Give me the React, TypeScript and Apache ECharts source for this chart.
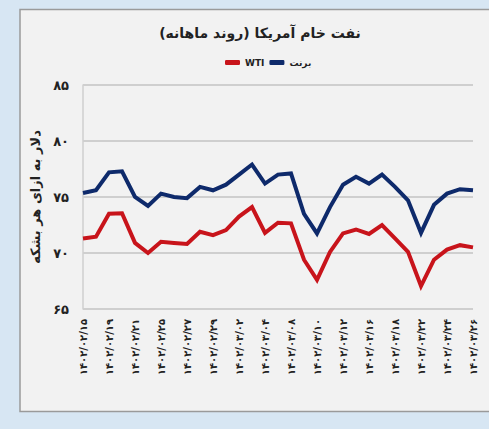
import React, { useEffect, useRef } from "react";
import * as echarts from "echarts";

const dates = [
  "۱۴۰۲/۰۲/۱۵", "۱۴۰۲/۰۲/۱۸", "۱۴۰۲/۰۲/۱۹", "۱۴۰۲/۰۲/۲۰", "۱۴۰۲/۰۲/۲۱", "۱۴۰۲/۰۲/۲۲",
  "۱۴۰۲/۰۲/۲۵", "۱۴۰۲/۰۲/۲۶", "۱۴۰۲/۰۲/۲۷", "۱۴۰۲/۰۲/۲۸", "۱۴۰۲/۰۲/۲۹", "۱۴۰۲/۰۳/۰۱",
  "۱۴۰۲/۰۳/۰۲", "۱۴۰۲/۰۳/۰۳", "۱۴۰۲/۰۳/۰۴", "۱۴۰۲/۰۳/۰۵", "۱۴۰۲/۰۳/۰۸", "۱۴۰۲/۰۳/۰۹",
  "۱۴۰۲/۰۳/۱۰", "۱۴۰۲/۰۳/۱۱", "۱۴۰۲/۰۳/۱۲", "۱۴۰۲/۰۳/۱۵", "۱۴۰۲/۰۳/۱۶", "۱۴۰۲/۰۳/۱۷",
  "۱۴۰۲/۰۳/۱۸", "۱۴۰۲/۰۳/۱۹", "۱۴۰۲/۰۳/۲۲", "۱۴۰۲/۰۳/۲۳", "۱۴۰۲/۰۳/۲۴", "۱۴۰۲/۰۳/۲۵",
  "۱۴۰۲/۰۳/۲۶",
];

const wti = [
  71.3, 71.45, 73.5, 73.55, 70.9, 70.0, 71.0, 70.9, 70.8, 71.9, 71.6, 72.05, 73.25, 74.1, 71.8, 72.7,
  72.65, 69.4, 67.6, 70.1, 71.75, 72.1, 71.7, 72.5, 71.3, 70.1, 67.05, 69.4, 70.3, 70.7, 70.5,
];

const brent = [
  75.35, 75.6, 77.2, 77.3, 75.0, 74.2, 75.3, 75.0, 74.9, 75.9, 75.6, 76.1, 77.0, 77.9, 76.2, 77.0,
  77.1, 73.5, 71.75, 74.1, 76.1, 76.8, 76.2, 77.0, 75.9, 74.7, 71.8, 74.3, 75.3, 75.7, 75.6,
];

const seriesNames = ["WTI", "برنت"];
const titleText = "نفت خام آمریکا (روند ماهانه)";
const yAxisName = "دلار به ازای هر بشکه";
const yMin = 65;
const yMax = 85;
const yStep = 5;

const faDigits = ["۰", "۱", "۲", "۳", "۴", "۵", "۶", "۷", "۸", "۹"];
const toFa = (v: number | string) => String(v).replace(/[0-9]/g, (d) => faDigits[Number(d)]);

const FONT = "DejaVu Sans";

export default function App() {
  const ref = useRef<HTMLDivElement>(null);
  useEffect(() => {
    if (!ref.current) return;
    const chart = echarts.init(ref.current, null, { renderer: "svg" });
    chart.setOption({
      animation: false,
      backgroundColor: "#d7e6f3",
      graphic: [
        {
          type: "rect",
          z: -10,
          shape: { x: 20, y: 9.5, width: 480, height: 402 },
          style: { fill: "#f2f2f2", stroke: "#9a9a9a", lineWidth: 1.5 },
        },
      ],
      title: {
        text: titleText,
        left: 255,
        textAlign: "center",
        top: 21,
        textStyle: { fontFamily: FONT, fontSize: 14, fontWeight: "bold", color: "#222" },
      },
      legend: {
        data: seriesNames,
        left: 220,
        top: 53,
        icon: "roundRect",
        itemWidth: 15,
        itemHeight: 5,
        itemGap: 5,
        textStyle: { fontFamily: FONT, fontSize: 9, fontWeight: "bold", color: "#222" },
      },
      grid: { left: 83, right: 16, top: 85, bottom: 120, containLabel: false },
      xAxis: {
        type: "category",
        data: dates,
        boundaryGap: false,
        axisLine: { show: false },
        axisTick: { show: false },
        axisLabel: {
          interval: 1,
          rotate: 90,
          margin: 10,
          fontFamily: FONT,
          fontSize: 10,
          fontWeight: "bold",
          color: "#222",
        },
        splitLine: { show: false },
      },
      yAxis: {
        type: "value",
        min: yMin,
        max: yMax,
        interval: yStep,
        name: yAxisName,
        nameLocation: "middle",
        nameRotate: 90,
        nameGap: 39,
        nameTextStyle: { fontFamily: FONT, fontSize: 13, fontWeight: "bold", color: "#222" },
        axisLine: { show: true, lineStyle: { color: "#cfcfcf", width: 1.5 } },
        axisTick: { show: false },
        axisLabel: {
          margin: 14,
          fontFamily: FONT,
          fontSize: 13,
          fontWeight: "bold",
          color: "#222",
          formatter: (v: number) => toFa(v),
        },
        splitLine: { show: true, lineStyle: { color: "#cfcfcf", width: 2 } },
      },
      series: [
        {
          name: seriesNames[0],
          type: "line",
          data: wti,
          symbol: "none",
          lineStyle: { color: "#c8141b", width: 4, join: "miter" },
          itemStyle: { color: "#c8141b" },
        },
        {
          name: seriesNames[1],
          type: "line",
          data: brent,
          symbol: "none",
          lineStyle: { color: "#0e2a6b", width: 4, join: "miter" },
          itemStyle: { color: "#0e2a6b" },
        },
      ],
    });
    return () => chart.dispose();
  }, []);
  return (
    <div
      ref={ref}
      style={{ position: "fixed", left: 0, top: 0, width: 489, height: 429 }}
    />
  );
}
